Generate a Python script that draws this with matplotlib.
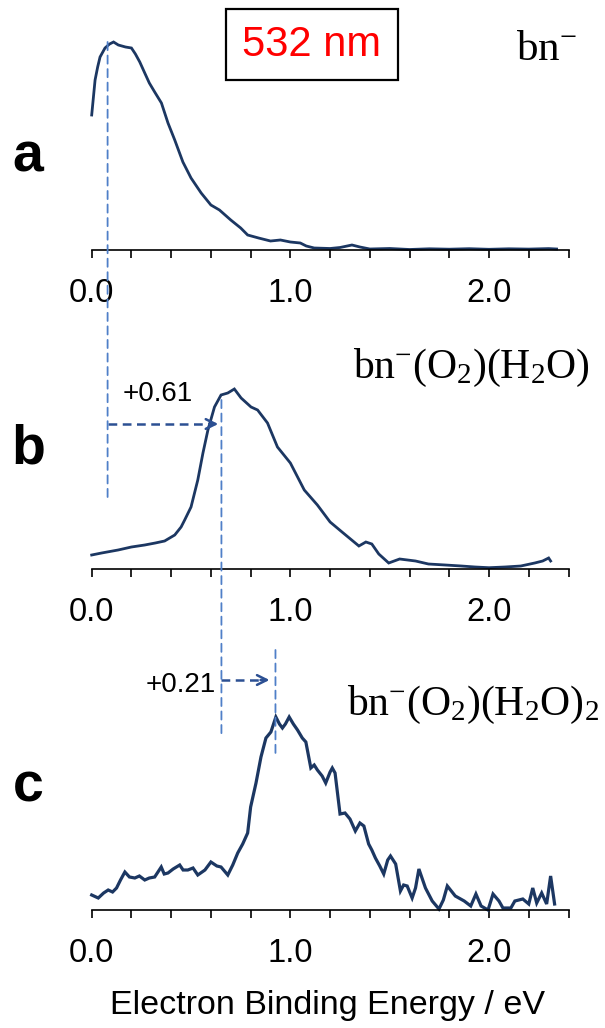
import numpy as np
import matplotlib
matplotlib.use("Agg")
import matplotlib.pyplot as plt
from matplotlib.patches import Rectangle, ConnectionPatch

plt.rcParams["font.family"] = ["Liberation Sans", "DejaVu Sans"]
plt.rcParams["mathtext.fontset"] = "custom"
plt.rcParams["mathtext.rm"] = "Liberation Serif"
plt.rcParams["mathtext.it"] = "Liberation Serif:italic"

# ── data (intensity in arbitrary units) ──────────────────────────────────────
Ea = [0.00, 0.017, 0.03, 0.042, 0.067, 0.09, 0.11, 0.134, 0.17, 0.20, 0.22, 0.242,
      0.267, 0.29, 0.317, 0.351, 0.384, 0.418, 0.459, 0.50, 0.551, 0.60, 0.643, 0.70,
      0.75, 0.785, 0.84, 0.90, 0.95, 1.0, 1.05, 1.08, 1.12, 1.2, 1.25, 1.31, 1.35,
      1.40, 1.5, 1.6, 1.7, 1.8, 1.9, 2.0, 2.1, 2.2, 2.3, 2.34]
Ia = [135, 170, 183, 193, 202, 206, 208, 205, 203, 202, 196, 188,
      177, 167, 158, 147, 127, 110, 88, 72, 57, 45, 40, 30,
      22, 15, 12, 9, 10, 8, 7, 4, 2, 1.5, 2.5, 5, 3,
      1, 1.5, 0.5, 1.2, 0.8, 1.3, 0.7, 1.2, 0.9, 1.4, 1.0]

Eb = [0.00, 0.05, 0.133, 0.2, 0.267, 0.32, 0.367, 0.418, 0.45, 0.468, 0.50, 0.534,
      0.56, 0.585, 0.618, 0.651, 0.685, 0.718, 0.752, 0.802, 0.835, 0.885, 0.935,
      1.0, 1.07, 1.136, 1.2, 1.26, 1.345, 1.38, 1.41, 1.445, 1.495, 1.55, 1.63,
      1.695, 1.78, 1.86, 1.93, 2.0, 2.08, 2.16, 2.23, 2.27, 2.30, 2.31]
Ib = [14, 16, 19, 22, 24, 26, 28, 34, 42, 49, 62, 89,
      116, 139, 162, 174, 176, 180, 171, 162, 159, 146, 122,
      106, 79, 64, 47, 37, 23, 27, 25, 15, 6, 10, 8,
      5, 4, 3, 2, 1.3, 2, 3, 6, 8, 11, 8]

Ec = [0.00, 0.033, 0.06, 0.083, 0.105, 0.125, 0.145, 0.167, 0.19, 0.217, 0.24, 0.267,
      0.29, 0.317, 0.35, 0.365, 0.384, 0.41, 0.443, 0.46, 0.484, 0.51, 0.534, 0.57,
      0.60, 0.63, 0.651, 0.685, 0.71, 0.735, 0.76, 0.785, 0.80, 0.827, 0.852, 0.877,
      0.902, 0.927, 0.945, 0.96, 0.975, 0.994, 1.015, 1.036, 1.06, 1.078, 1.103, 1.12,
      1.136, 1.16, 1.178, 1.20, 1.211, 1.225, 1.25, 1.275, 1.30, 1.327, 1.35, 1.37,
      1.394, 1.41, 1.428, 1.45, 1.47, 1.49, 1.504, 1.53, 1.554, 1.57, 1.588, 1.613,
      1.63, 1.647, 1.68, 1.714, 1.748, 1.77, 1.79, 1.83, 1.875, 1.908, 1.934, 1.96,
      1.995, 2.02, 2.05, 2.07, 2.11, 2.13, 2.17, 2.20, 2.22, 2.24, 2.265, 2.29, 2.31, 2.33]
Ic = [15, 12, 17, 20, 18, 22, 30, 38, 33, 32, 34, 30,
      32, 33, 43, 36, 37, 41, 45, 40, 40, 42, 35, 40,
      48, 44, 43, 35, 45, 57, 66, 77, 103, 127, 153, 172,
      178, 193, 186, 182, 186, 193, 186, 180, 172, 168, 142, 145,
      140, 134, 127, 138, 142, 137, 96, 97, 91, 79, 87, 84,
      66, 60, 52, 44, 36, 50, 54, 46, 19, 25, 24, 12,
      22, 41, 22, 9, 1, 10, 24, 14, 9, 4, 16, 4,
      0, 16, 9, 2, 2, 9, 11, 6, 22, 7, 17, 6, 34, 6]

SPECIES = [r"bn$^{-}$", r"bn$^{-}$(O$_2$)(H$_2$O)", r"bn$^{-}$(O$_2$)(H$_2$O)$_2$"]
PANELS = ["a", "b", "c"]
LINE_E = [0.08, 0.653, 0.925]      # dashed guide lines (eV)
SHIFTS = ["+0.61", "+0.21"]

TICKS = np.round(np.arange(0, 2.41, 0.2), 1)
TICKLABELS = [f"{t:.1f}" if t in (0.0, 1.0, 2.0) else "" for t in TICKS]

CURVE = "#1c3762"
GUIDE = "#4f7fc8"
ARROW = "#2c5093"
SERIF = ["Liberation Serif", "DejaVu Serif"]

# ── layout (pixel based, 605x1028) ─────────────────────────────────────────
W, H = 605, 1028
fig = plt.figure(figsize=(W / 100, H / 100), dpi=100)
x0, x1 = 91.7, 568.5

def px_axes(top, bottom):
    return fig.add_axes([x0 / W, 1 - bottom / H, (x1 - x0) / W, (bottom - top) / H])

ax_a = px_axes(0, 250)
ax_b = px_axes(320, 569)
ax_c = px_axes(640, 910)
axes = [ax_a, ax_b, ax_c]
tops = [250, 249, 270]

for ax, E, I, top, lw in zip(axes, [Ea, Eb, Ec], [Ia, Ib, Ic], tops, [2.0, 2.0, 2.3]):
    ax.plot(E, I, color=CURVE, lw=lw, clip_on=False, solid_joinstyle="miter")
    ax.set_xlim(0, 2.4); ax.set_ylim(0, top)
    for s in ["left", "right", "top"]:
        ax.spines[s].set_visible(False)
    ax.spines["bottom"].set_linewidth(1.2)
    ax.set_yticks([])
    ax.set_xticks(TICKS); ax.set_xticklabels(TICKLABELS)
    ax.tick_params(axis="x", direction="out", length=6, width=1.2, labelsize=23.5, pad=14)
    ax.patch.set_visible(False)

# panel letters
for lab, yc in zip(PANELS, [158, 450, 788]):
    fig.text(28 / W, 1 - yc / H, lab, fontsize=40, fontweight="bold", ha="center", va="center")

# species labels
ax_a.text(2.44, 190, SPECIES[0], fontsize=31, ha="right", va="baseline", family=SERIF)
ax_b.text(1.313, 191, SPECIES[1], fontsize=30, ha="left", va="baseline", family=SERIF)
ax_c.text(1.283, 195, SPECIES[2], fontsize=30, ha="left", va="baseline", family=SERIF)

# 532 nm box
fig.add_artist(Rectangle((226 / W, 1 - 80 / H), 172 / W, 71 / H, transform=fig.transFigure,
                         fill=False, ec="black", lw=1.6))
fig.text(311 / W, 1 - 45 / H, "532 nm", color="red", fontsize=30, ha="center", va="center")

# vertical dashed guide lines
guides = [(ax_a, 208, ax_b, 72), (ax_b, 169, ax_c, 175), (ax_c, 260, ax_c, 152)]
for e, (axA, yA, axB, yB) in zip(LINE_E, guides):
    cp = ConnectionPatch((e, yA), (e, yB), coordsA=axA.transData, coordsB=axB.transData,
                         color=GUIDE, lw=1.3, ls=(0, (4.5, 3.0)))
    fig.add_artist(cp)

# shift arrows
for ax, e0, e1, y in [(ax_b, LINE_E[0], 0.637, 145), (ax_c, LINE_E[1], 0.895, 230)]:
    ax.plot([e0, e1 - 0.03], [y, y], color=ARROW, lw=1.8, ls=(0, (3.5, 2.2)), clip_on=False)
    ax.annotate("", xy=(e1, y), xytext=(e1 - 0.045, y),
                arrowprops=dict(arrowstyle="->,head_length=0.7,head_width=0.35",
                                color=ARROW, lw=1.8, shrinkA=0, shrinkB=0),
                annotation_clip=False)

ax_b.text(0.333, 175, SHIFTS[0], fontsize=20, ha="center", va="center")
ax_c.text(0.625, 225, SHIFTS[1], fontsize=20, ha="right", va="center")

fig.text(327.5 / W, 1 - 1013.6 / H, "Electron Binding Energy / eV", fontsize=24.5,
         ha="center", va="baseline")

fig.savefig("out.png", dpi=100)
